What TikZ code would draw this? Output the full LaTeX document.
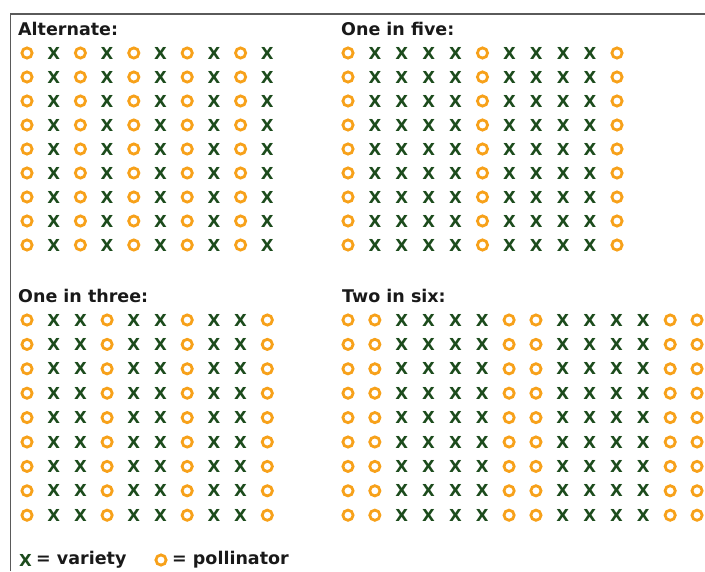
\documentclass[tikz,border=0pt]{standalone}
\usepackage{fontspec}
\setmainfont{DejaVu Sans}
\usetikzlibrary{positioning}
\definecolor{cOrange}{HTML}{F7A11A}
\definecolor{cGreen}{HTML}{1C4B1C}
\definecolor{cFrame}{HTML}{5A5A5A}
\tikzset{
	ttl/.style={anchor=base west, inner sep=0pt, font=\fontsize{17.5}{20}\selectfont\bfseries, text=black!90},
	var/.style={inner sep=0pt, font=\fontsize{16.5}{18}\selectfont\bfseries, text=cGreen, node contents=X},
	pol/.style={circle, draw=cOrange, line width=2.8pt, minimum size=10.2pt, inner sep=0pt, node contents={}},
	frame/.style={draw=cFrame, line width=1.6pt},
}
\begin{document}
\begin{tikzpicture}[x=1pt, y=-1pt]
		\useasboundingbox (0,0) rectangle (705,571);
		\draw[frame] (10.5,571) |- (705,14);
		% titles
		\node[ttl] (tAlt) at (18,35) {Alternate:};
		\node[ttl] (tFive) at (341,35) {One in five:};
		\node[ttl] (tThree) at (18,302) {One in three:};
		\node[ttl] (tSix) at (342,302) {Two in six:};
		% planting grids
		\foreach \r in {0,...,8} {
				\foreach \t [count=\c from 0] in {pol,var,pol,var,pol,var,pol,var,pol,var}
					\node (alt-\r-\c) at (27+\c*26.7, 53+\r*24) [\t];
				\foreach \t [count=\c from 0] in {pol,var,var,var,var,pol,var,var,var,var,pol}
					\node (five-\r-\c) at (348+\c*26.9, 53+\r*24) [\t];
				\foreach \t [count=\c from 0] in {pol,var,var,pol,var,var,pol,var,var,pol}
					\node (three-\r-\c) at (27+\c*26.7, 320+\r*24.4) [\t];
				\foreach \t [count=\c from 0] in {pol,pol,var,var,var,var,pol,pol,var,var,var,var,pol,pol}
					\node (six-\r-\c) at (348+\c*26.85, 320+\r*24.4) [\t];
			}
		% legend
		\node (kVar) at (25.5,560) [var];
		\node[ttl, anchor=west] (lVar) at (36,560) {= variety};
		\node (kPol) at (161,560) [pol];
		\node[ttl, anchor=west] (lPol) at (172,560) {= pollinator};
\end{tikzpicture}
\end{document}
